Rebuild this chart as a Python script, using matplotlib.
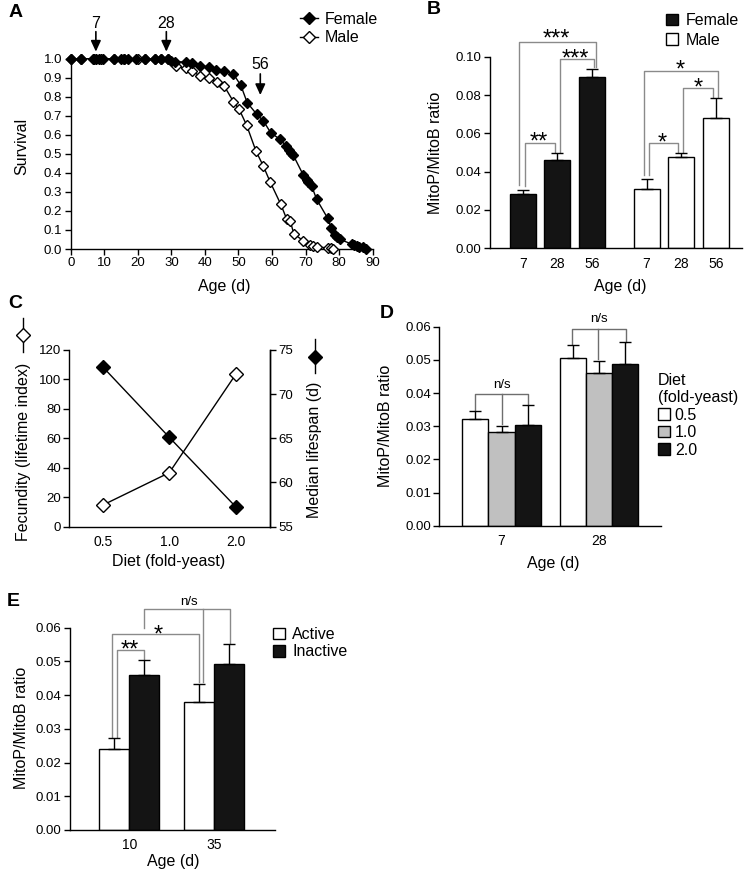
# coding:utf-8
import numpy as np
import matplotlib
matplotlib.use("Agg")
import matplotlib.pyplot as plt
from matplotlib.lines import Line2D
from matplotlib.patches import Patch

plt.rcParams['font.family'] = ['Liberation Sans', 'DejaVu Sans']

# ---- data ----
# A: survival
female_age = [0, 3, 6.5, 7.5, 8.5, 9.5, 13, 15, 16, 17, 19.5, 22, 25, 27, 29, 30, 31,
              34.3, 36.2, 38.5, 41.3, 43.3, 45.8, 48.5, 50.7,
              52.6, 55.4, 57.4, 59.6, 62.4, 64.3, 65, 65.6, 66.3,
              69.3, 70.3, 70.8, 71.8, 73.3,
              76.6, 77.6, 78.8, 79.5, 80.2,
              83.7, 84.5, 85.2, 86, 87, 88]
female_surv = [1.0] * 15 + [0.99, 0.985,
               0.982, 0.975, 0.961, 0.958, 0.94, 0.935, 0.919, 0.86,
               0.769, 0.709, 0.674, 0.611, 0.576, 0.54, 0.52, 0.505, 0.494,
               0.389, 0.365, 0.354, 0.331, 0.261,
               0.161, 0.112, 0.074, 0.062, 0.051,
               0.026, 0.02, 0.016, 0.012, 0.008, 0.0]
male_age = [0, 3, 7, 9, 13, 16, 20, 22, 25, 27, 29,
            31.3, 34.3, 36.2, 38.5, 41.3, 43.5, 45.7,
            48.5, 50.2, 52.4, 55.2, 57.4, 59.4, 62.6, 64.4, 65.4, 66.5,
            69.3, 71.3, 72.3, 73.3, 76.8, 77.5, 78.2]
male_surv = [1.0] * 11 + [0.961, 0.949, 0.935, 0.909, 0.897, 0.879, 0.858,
             0.774, 0.734, 0.652, 0.515, 0.436, 0.354, 0.235, 0.156, 0.149, 0.079,
             0.044, 0.02, 0.014, 0.009, 0.007, 0.004, 0.0]
sample_ages = [7, 28, 56]

# B: MitoP/MitoB by sex and age
b_ages = ['7', '28', '56']
b_female = [0.0282, 0.0461, 0.0892]
b_female_err = [0.0020, 0.0035, 0.0044]
b_male = [0.0311, 0.0478, 0.0678]
b_male_err = [0.0052, 0.0021, 0.0105]

# C: diet
diets = ['0.5', '1.0', '2.0']
fecundity = [14.5, 36.6, 103.7]
median_lifespan = [73.1, 65.1, 57.2]

# D: diet x age
d_ages = ['7', '28']
d_diet_labels = ['0.5', '1.0', '2.0']
d_vals = [[0.0322, 0.0505], [0.0282, 0.0460], [0.0304, 0.0488]]
d_err = [[0.0025, 0.0040], [0.0020, 0.0038], [0.0059, 0.0065]]

# E: activity
e_ages = ['10', '35']
e_active = [0.0240, 0.0381]
e_active_err = [0.0032, 0.0052]
e_inactive = [0.0460, 0.0492]
e_inactive_err = [0.0044, 0.0059]

W, H = 746, 873
fig = plt.figure(figsize=(W / 100, H / 100), dpi=100)


def box(l, t, r, b):
    return [l / W, 1 - b / H, (r - l) / W, (b - t) / H]


def ftext(x, y, s, **kw):
    fig.text(x / W, 1 - y / H, s, ha=kw.pop('ha', 'center'), va=kw.pop('va', 'center'), **kw)


def style(ax, right=False):
    for s in ['top', 'right']:
        ax.spines[s].set_visible(False)
    if right:
        ax.spines['right'].set_visible(True)
    for s in ax.spines.values():
        s.set_linewidth(1.0)
    ax.tick_params(direction='out', length=4, width=1, labelsize=9.5, pad=2)


def bracket(ax, x1, x2, ytop, y1, y2, color, xm=None, ym=None):
    ax.plot([x1, x1, x2, x2], [y1, ytop, ytop, y2], color=color, lw=1.0, clip_on=False)
    if xm is not None:
        ax.plot([xm, xm], [ytop, ym], color=color, lw=1.0, clip_on=False)


def stars(ax, x, y, s, off=-4.5):
    # star glyphs sit high in the em box, so anchor on the baseline a bit below
    ax.annotate(s, xy=(x, y), xytext=(0, off), textcoords='offset points',
                ha='center', va='baseline', fontsize=17, annotation_clip=False)


LAB = 11.5
BLACK = '#141414'
GRAY = '#c0c0c0'
BR = '#8a8a8a'

# ---------------- A ----------------
axA = fig.add_axes(box(70.7, 58.7, 372.7, 249))
style(axA)
axA.plot(male_age, male_surv, '-', color='k', lw=1, marker='D', ms=5,
         mfc='white', mec='k', mew=1, clip_on=False, zorder=3)
axA.plot(female_age, female_surv, '-', color='k', lw=1, marker='D', ms=5,
         mfc='k', mec='k', clip_on=False, zorder=4)
axA.set_xlim(0, 90)
axA.set_ylim(0, 1.0)
axA.set_xticks(np.arange(0, 91, 10))
axA.set_yticks(np.arange(0, 1.01, 0.1))
axA.set_yticklabels(['%.1f' % v for v in np.arange(0, 1.01, 0.1)])
arrow_y = [(1.142, 1.037, 1.186), (1.142, 1.037, 1.186), (0.92, 0.809, 0.967)]
for age, (y0, y1, yt) in zip(sample_ages, arrow_y):
    axA.annotate('', xy=(age + 0.5, y1), xytext=(age + 0.5, y0),
                 arrowprops=dict(arrowstyle='-|>,head_length=0.65,head_width=0.3',
                                 color='k', lw=1.2, mutation_scale=10,
                                 shrinkA=0, shrinkB=0),
                 annotation_clip=False)
    axA.text(age + 0.5, yt, str(age), ha='center', va='center', fontsize=LAB, clip_on=False)
hA = [Line2D([], [], color='k', lw=1, marker='D', ms=6, mfc='k', mec='k'),
      Line2D([], [], color='k', lw=1, marker='D', ms=6, mfc='white', mec='k', mew=1)]
fig.legend(hA, ['Female', 'Male'], loc='upper left', bbox_to_anchor=(300 / W, 1 - 12 / H),
           frameon=False, fontsize=11.5, handlelength=1.1, handletextpad=0.45,
           labelspacing=0.2, borderpad=0, borderaxespad=0, numpoints=1)
ftext(21.7, 146.7, 'Survival', rotation=90, fontsize=LAB)
ftext(224, 286, 'Age (d)', fontsize=LAB)

# ---------------- B ----------------
axB = fig.add_axes(box(490, 56.7, 742, 248.3))
style(axB)
xf = np.arange(3)
xm = np.arange(3) + 3.57
axB.bar(xf, b_female, 0.75, color=BLACK, edgecolor='k', lw=1, zorder=2)
axB.bar(xm, b_male, 0.75, color='white', edgecolor='k', lw=1, zorder=2)
axB.errorbar(xf, b_female, yerr=[np.zeros(3), b_female_err], fmt='none', ecolor='k',
             elinewidth=1, capsize=4, capthick=1, zorder=3)
axB.errorbar(xm, b_male, yerr=[np.zeros(3), b_male_err], fmt='none', ecolor='k',
             elinewidth=1, capsize=4, capthick=1, zorder=3)
axB.set_xlim(-0.94, 6.32)
axB.set_ylim(0, 0.10)
axB.set_yticks(np.arange(0, 0.101, 0.02))
axB.set_yticklabels(['%.2f' % v for v in np.arange(0, 0.101, 0.02)])
axB.set_xticks(list(xf) + list(xm))
axB.set_xticklabels(b_ages + b_ages, fontsize=10)
axB.tick_params(axis='x', length=0, pad=6)
bracket(axB, -0.10, 2.11, 0.1075, 0.033, 0.0948, BR)
bracket(axB, 1.075, 2.065, 0.0986, 0.0504, 0.0948, BR)
bracket(axB, 0.075, 0.922, 0.0551, 0.0325, 0.0504, BR)
bracket(axB, 3.505, 5.64, 0.0927, 0.0383, 0.0791, BR)
bracket(axB, 4.63, 5.49, 0.0835, 0.0504, 0.0791, BR)
bracket(axB, 3.65, 4.485, 0.0548, 0.0383, 0.0504, BR)
stars(axB, 0.98, 0.1075, '***', off=-2.5)
stars(axB, 1.52, 0.0986, '***')
stars(axB, 0.47, 0.0551, '**')
stars(axB, 4.53, 0.0927, '*')
stars(axB, 5.06, 0.0835, '*')
stars(axB, 4.02, 0.0548, '*')
hB = [Patch(facecolor=BLACK, edgecolor='k'), Patch(facecolor='white', edgecolor='k')]
fig.legend(hB, ['Female', 'Male'], loc='upper left', bbox_to_anchor=(666 / W, 1 - 13 / H),
           frameon=False, fontsize=11.5, handlelength=0.75, handleheight=0.75,
           handletextpad=0.5, labelspacing=0.3, borderpad=0, borderaxespad=0)
ftext(435, 153.3, 'MitoP/MitoB ratio', rotation=90, fontsize=LAB)
ftext(620, 286.7, 'Age (d)', fontsize=LAB)

# ---------------- C ----------------
axC = fig.add_axes(box(69.3, 350, 270, 526.5))
style(axC, right=True)
xc = np.arange(3)
axC.plot(xc, fecundity, '-', color='k', lw=1, marker='D', ms=7, mfc='white',
         mec='k', mew=1, zorder=3)
axC.set_xlim(-0.5, 2.51)
axC.set_ylim(0, 120)
axC.set_yticks(np.arange(0, 121, 20))
axC.set_xticks(xc)
axC.set_xticklabels(diets, fontsize=10)
axC.tick_params(axis='x', length=0, pad=6)
axC2 = axC.twinx()
style(axC2, right=True)
axC2.spines['left'].set_visible(False)
axC2.spines['bottom'].set_visible(False)
axC2.plot(xc, median_lifespan, '-', color='k', lw=1, marker='D', ms=7, mfc='k',
          mec='k', zorder=3)
axC2.set_ylim(55, 75)
axC2.set_yticks(np.arange(55, 76, 5))
axC2.set_xlim(-0.5, 2.51)
ftext(23.3, 452, 'Fecundity (lifetime index)', rotation=90, fontsize=LAB)
ftext(315, 450, 'Median lifespan (d)', rotation=90, fontsize=LAB)
ftext(168.3, 561.7, 'Diet (fold-yeast)', fontsize=LAB)
fig.add_artist(Line2D([23.3 / W, 23.3 / W], [1 - 318 / H, 1 - 352 / H], color='k', lw=1))
fig.add_artist(Line2D([23.3 / W], [1 - 335 / H], marker='D', ms=7, mfc='white', mec='k', mew=1))
fig.add_artist(Line2D([315 / W, 315 / W], [1 - 339 / H, 1 - 373 / H], color='k', lw=1))
fig.add_artist(Line2D([315 / W], [1 - 356.7 / H], marker='D', ms=7, mfc='k', mec='k'))

# ---------------- D ----------------
axD = fig.add_axes(box(439.3, 326.7, 661, 525.8))
style(axD)
xd = np.arange(2)
wd = 0.27
d_colors = ['white', GRAY, BLACK]
for i in range(3):
    pos = xd + (i - 1) * wd
    axD.bar(pos, d_vals[i], wd, color=d_colors[i], edgecolor='k', lw=1, zorder=2,
            label=d_diet_labels[i])
    axD.errorbar(pos, d_vals[i], yerr=[np.zeros(2), d_err[i]], fmt='none', ecolor='k',
                 elinewidth=1, capsize=4, capthick=1, zorder=3)
axD.set_xlim(-0.638, 1.636)
axD.set_ylim(0, 0.06)
axD.set_yticks(np.arange(0, 0.061, 0.01))
axD.set_yticklabels(['%.2f' % v for v in np.arange(0, 0.061, 0.01)])
axD.set_xticks(xd)
axD.set_xticklabels(d_ages, fontsize=10)
axD.tick_params(axis='x', length=0, pad=6)
DBR = '#6e6e6e'
bracket(axD, -0.272, 0.269, 0.0396, 0.0349, 0.0368, DBR, xm=0.0, ym=0.0306)
bracket(axD, 0.723, 1.273, 0.0592, 0.0547, 0.0555, DBR, xm=0.993, ym=0.0502)
axD.text(0.0, 0.0424, 'n/s', ha='center', va='center', fontsize=9.5)
axD.text(0.995, 0.0622, 'n/s', ha='center', va='center', fontsize=9.5, clip_on=False)
fig.legend(*axD.get_legend_handles_labels(), loc='upper left',
           bbox_to_anchor=(658 / W, 1 - 373 / H), title='Diet\n(fold-yeast)',
           alignment='left', frameon=False, fontsize=11.5, title_fontsize=11.5,
           handlelength=0.75, handleheight=0.75, handletextpad=0.3,
           labelspacing=0.15, borderpad=0, borderaxespad=0)
ftext(386, 426, 'MitoP/MitoB ratio', rotation=90, fontsize=LAB)
ftext(553.3, 563.3, 'Age (d)', fontsize=LAB)

# ---------------- E ----------------
axE = fig.add_axes(box(70, 627.7, 275, 830))
style(axE)
xe = np.arange(2)
we = 0.353
axE.bar(xe - we / 2, e_active, we, color='white', edgecolor='k', lw=1, zorder=2, label='Active')
axE.bar(xe + we / 2, e_inactive, we, color=BLACK, edgecolor='k', lw=1, zorder=2, label='Inactive')
axE.errorbar(xe - we / 2, e_active, yerr=[np.zeros(2), e_active_err], fmt='none', ecolor='k',
             elinewidth=1, capsize=4, capthick=1, zorder=3)
axE.errorbar(xe + we / 2, e_inactive, yerr=[np.zeros(2), e_inactive_err], fmt='none', ecolor='k',
             elinewidth=1, capsize=4, capthick=1, zorder=3)
axE.set_xlim(-0.698, 1.714)
axE.set_ylim(0, 0.06)
axE.set_yticks(np.arange(0, 0.061, 0.01))
axE.set_yticklabels(['%.2f' % v for v in np.arange(0, 0.061, 0.01)])
axE.set_xticks(xe)
axE.set_xticklabels(e_ages, fontsize=10)
axE.tick_params(axis='x', length=0, pad=6)
bracket(axE, -0.15, 0.175, 0.0534, 0.0277, 0.0508, BR)
bracket(axE, -0.207, 0.82, 0.0581, 0.0277, 0.0440, BR)
bracket(axE, 0.175, 1.185, 0.0654, 0.0600, 0.0555, BR, xm=0.871, ym=0.0440)
stars(axE, 0.0, 0.0534, '**', off=-5)
stars(axE, 0.34, 0.0581, '*', off=-5)
axE.text(0.70, 0.0675, 'n/s', ha='center', va='center', fontsize=9.5, clip_on=False)
fig.legend(*axE.get_legend_handles_labels(), loc='upper left',
           bbox_to_anchor=(273 / W, 1 - 627 / H), frameon=False, fontsize=11.5,
           handlelength=0.75, handleheight=0.75, handletextpad=0.45,
           labelspacing=0.15, borderpad=0, borderaxespad=0)
ftext(21.7, 728, 'MitoP/MitoB ratio', rotation=90, fontsize=LAB)
ftext(173.3, 861.7, 'Age (d)', fontsize=LAB)

# panel letters
for x, y, s in [(8.3, 12.7, 'A'), (426.7, 9, 'B'), (8.3, 303.3, 'C'), (380, 313, 'D'), (6.7, 601.7, 'E')]:
    ftext(x, y, s, fontsize=14, fontweight='bold', ha='left')

fig.savefig('out.png', dpi=100)
